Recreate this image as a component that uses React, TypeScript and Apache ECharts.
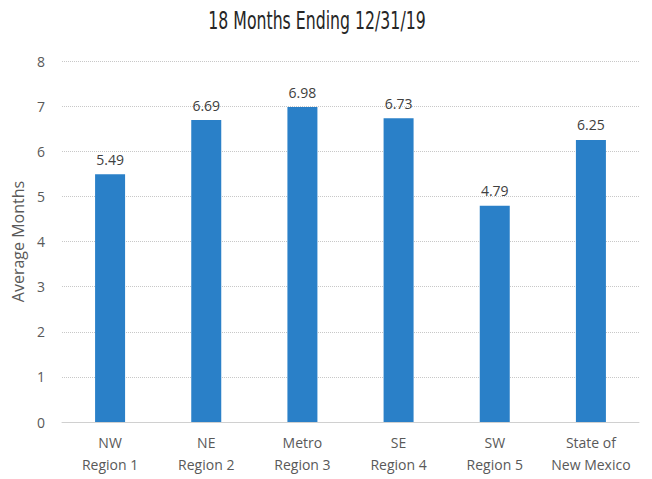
import React, { useEffect, useRef } from "react";
import * as echarts from "echarts";

const titleText = "18 Months Ending 12/31/19";
const categories = ["NW\nRegion 1", "NE\nRegion 2", "Metro\nRegion 3", "SE\nRegion 4", "SW\nRegion 5", "State of\nNew Mexico"];
const values = [5.49, 6.69, 6.98, 6.73, 4.79, 6.25];
const yTitle = "Average Months";

const FONT = "'Open Sans', 'Noto Sans', sans-serif";

export default function App() {
  const ref = useRef<HTMLDivElement>(null);
  useEffect(() => {
    if (!ref.current) return;
    const chart = echarts.init(ref.current, null, { renderer: "svg" });
    chart.setOption({
      animation: false,
      backgroundColor: "#ffffff",
      graphic: [
        {
          type: "text",
          x: 317,
          y: 8,
          scaleX: 0.7,
          style: {
            text: titleText,
            fontFamily: "'DejaVu Sans Condensed', 'DejaVu Sans', sans-serif",
            fontSize: 25,
            fontWeight: 200,
            fill: "#262626",
            textAlign: "center",
            textVerticalAlign: "top",
          },
        },
      ],
      grid: { left: 62, right: 13, top: 61, bottom: 57, containLabel: false },
      xAxis: {
        type: "category",
        data: categories,
        axisLine: { show: true, lineStyle: { color: "#d0d0d0" } },
        axisTick: { show: false },
        axisLabel: { interval: 0, color: "#595959", fontFamily: FONT, fontSize: 14, lineHeight: 22, margin: 9 },
      },
      yAxis: {
        type: "value",
        min: 0,
        max: 8,
        interval: 1,
        name: yTitle,
        nameLocation: "middle",
        nameGap: 33,
        nameTextStyle: { color: "#595959", fontFamily: FONT, fontSize: 16 },
        axisLine: { show: false },
        axisTick: { show: false },
        axisLabel: { color: "#595959", fontFamily: FONT, fontSize: 14, margin: 17 },
        splitLine: { lineStyle: { color: "#c8c8c8", type: [1, 1] } },
      },
      series: [
        {
          type: "bar",
          data: values,
          barWidth: 30,
          itemStyle: { color: "#2a80c8" },
          label: {
            show: true,
            position: "top",
            distance: 8,
            color: "#404040",
            fontFamily: FONT,
            fontSize: 14,
            formatter: (p: any) => p.value.toFixed(2),
          },
        },
      ],
    });
    return () => chart.dispose();
  }, []);
  return <div ref={ref} style={{ width: 652, height: 479, position: "absolute", left: 0, top: 0 }} />;
}
